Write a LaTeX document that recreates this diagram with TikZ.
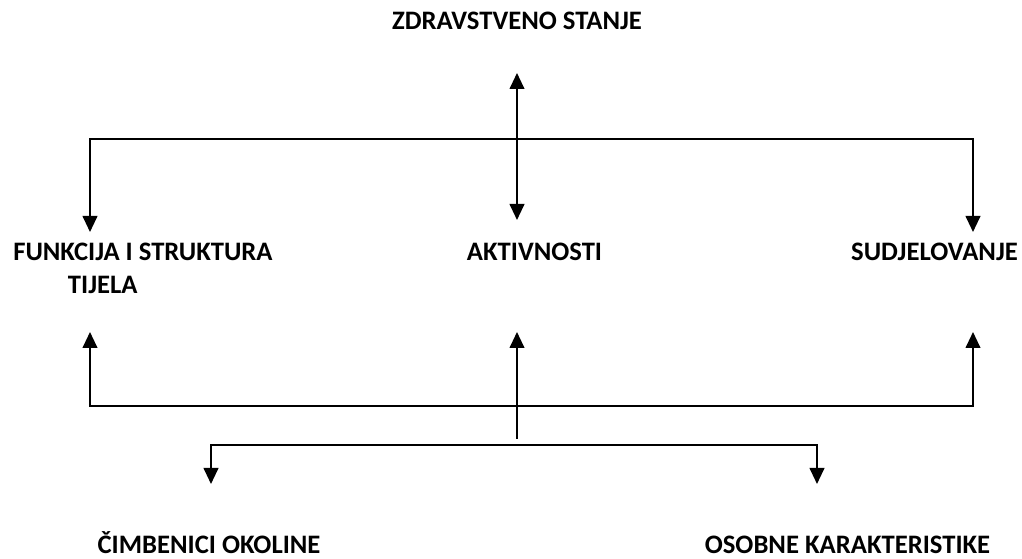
\documentclass[tikz,border=0pt]{standalone}
\usepackage{fontspec}
\setmainfont{Carlito}
\usetikzlibrary{arrows.meta}
\begin{document}
\begin{tikzpicture}[x=0.75pt,y=-0.75pt,
  lbl/.style={font=\bfseries\fontsize{20}{24.75}\selectfont, inner sep=0pt, anchor=base},
  link/.style={line width=1.5pt, line join=miter},
  tip/.tip={Triangle[length=12pt,width=11pt]},
  arr/.style={link,-tip},
  both/.style={link,tip-tip}]
\useasboundingbox (0,0) rectangle (1022,559);
% labels
\node[lbl] (zdr) at (517,30) {ZDRAVSTVENO STANJE};
\node[lbl, anchor=base west, align=left] (fun) at (13,294) {FUNKCIJA I STRUKTURA\\\hspace*{41pt}TIJELA};
\node[lbl] (akt) at (534.5,261) {AKTIVNOSTI};
\node[lbl] (sud) at (934.5,261) {SUDJELOVANJE};
\node[lbl] (cim) at (209,554) {ČIMBENICI OKOLINE};
\node[lbl] (oso) at (847.5,554) {OSOBNE KARAKTERISTIKE};
% connector points
\coordinate (ztip) at (517,73);
\coordinate (atip) at (517,220);
\coordinate (tl) at (90,139);
\coordinate (tr) at (973,139);
\coordinate (ftip) at (90,232);
\coordinate (stip) at (973,232);
\coordinate (fup) at (90,332);
\coordinate (sup) at (973,332);
\coordinate (bl) at (90,406);
\coordinate (br) at (973,406);
\coordinate (aup) at (517,332);
\coordinate (abot) at (517,439);
\coordinate (cl) at (211,445);
\coordinate (cr) at (817,445);
\coordinate (ctip) at (211,484);
\coordinate (otip) at (817,484);
% connectors
\draw[both] (ztip) -- (atip);
\draw[both] (ftip) -- (tl) -- (tr) -- (stip);
\draw[both] (fup) -- (bl) -- (br) -- (sup);
\draw[arr] (abot) -- (aup);
\draw[both] (ctip) -- (cl) -- (cr) -- (otip);
\end{tikzpicture}
\end{document}
